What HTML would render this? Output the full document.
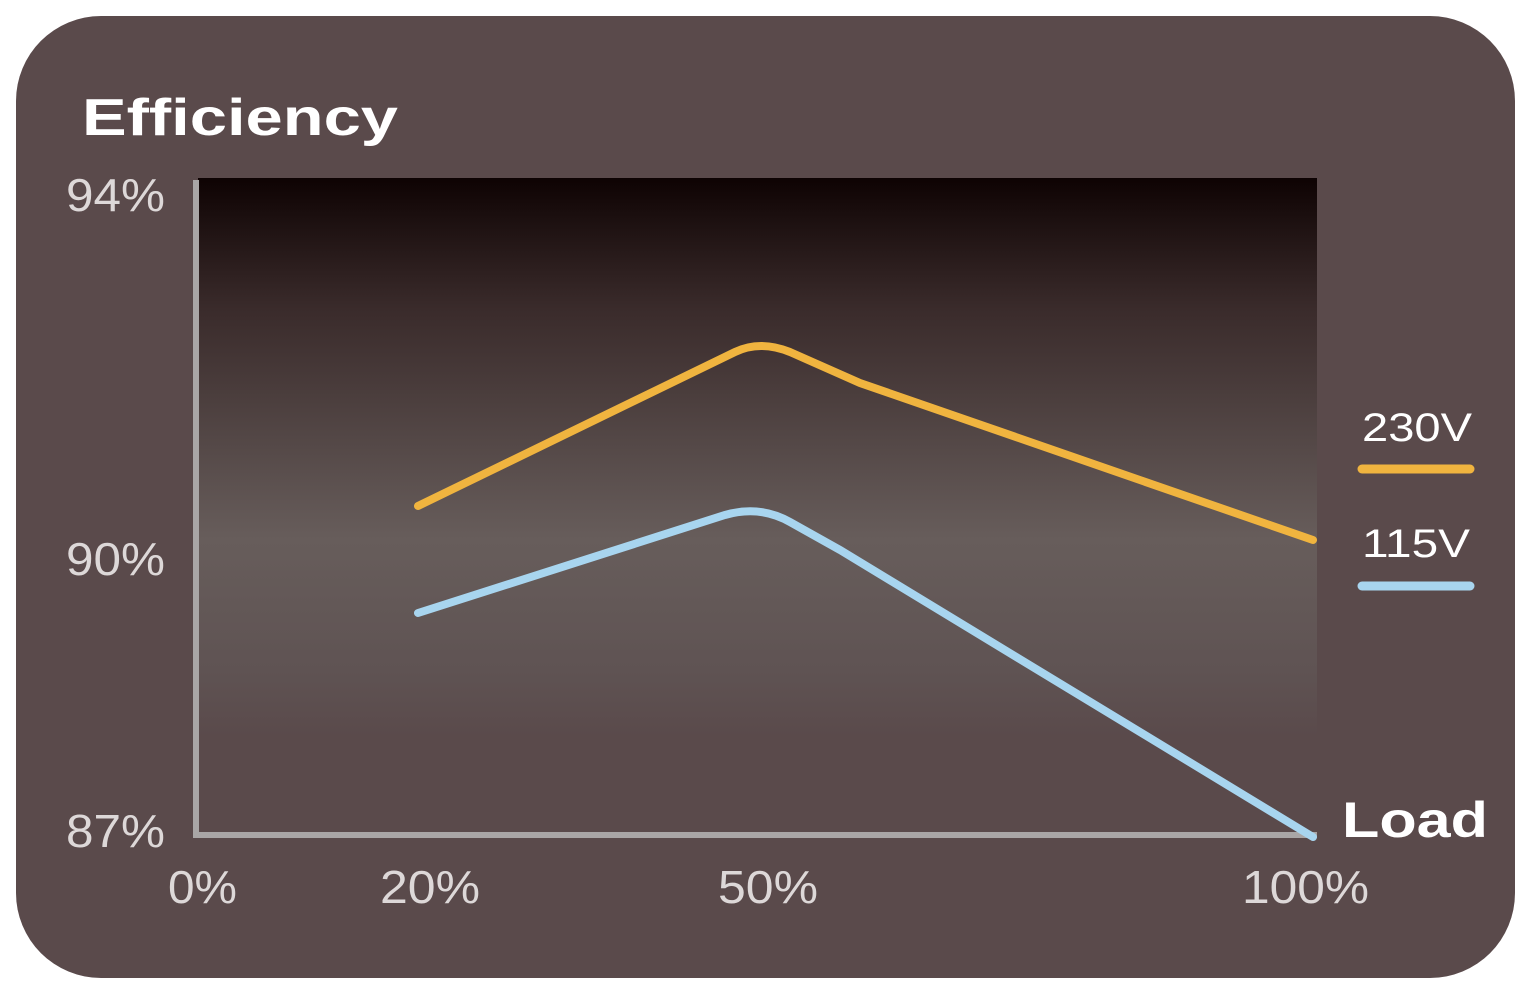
<!DOCTYPE html>
<html><head><style>
body{margin:0;background:#fff;width:1530px;height:994px;overflow:hidden}
</style></head><body>
<svg width="1530" height="994" xmlns="http://www.w3.org/2000/svg" font-family="Liberation Sans, sans-serif">
<defs><linearGradient id="g" x1="0" y1="0" x2="0" y2="1">
<stop offset="0" stop-color="#0e0303"/><stop offset="0.2" stop-color="#3a2b2b"/>
<stop offset="0.55" stop-color="#675d5b"/><stop offset="0.75" stop-color="#5f5353"/><stop offset="0.85" stop-color="#5a4a4b"/><stop offset="1" stop-color="#5a4a4b"/></linearGradient></defs>
<rect x="16" y="16" width="1499" height="962" rx="85" fill="#5a4a4b"/>
<rect x="198" y="178" width="1119" height="657" fill="url(#g)"/>
<line x1="196" y1="180" x2="196" y2="838" stroke="#a9a6a6" stroke-width="6"/>
<line x1="193" y1="835" x2="1317" y2="835" stroke="#a9a6a6" stroke-width="6"/>
<path d="M418,506 L735,352 Q760,340 790,352 L860,383 L1313,540" fill="none" stroke="#f0b43f" stroke-width="8" stroke-linecap="round"/>
<path d="M418,613 L725,515 Q760,505 790,522 L840,550 L1313,837" fill="none" stroke="#a8d5ef" stroke-width="8" stroke-linecap="round"/>
<text x="82" y="135" fill="#fff" font-size="52" font-weight="bold" textLength="316" lengthAdjust="spacingAndGlyphs">Efficiency</text>
<g fill="#ddd8d8" font-size="46">
<text x="66" y="211" textLength="99" lengthAdjust="spacingAndGlyphs">94%</text>
<text x="66" y="575" textLength="99" lengthAdjust="spacingAndGlyphs">90%</text>
<text x="66" y="847" textLength="99" lengthAdjust="spacingAndGlyphs">87%</text>
<text x="168" y="903" textLength="69" lengthAdjust="spacingAndGlyphs">0%</text>
<text x="380" y="903" textLength="100" lengthAdjust="spacingAndGlyphs">20%</text>
<text x="718" y="903" textLength="100" lengthAdjust="spacingAndGlyphs">50%</text>
<text x="1242" y="903" textLength="127" lengthAdjust="spacingAndGlyphs">100%</text>
</g>
<text x="1342" y="837" fill="#fff" font-size="50" font-weight="bold" textLength="146" lengthAdjust="spacingAndGlyphs">Load</text>
<text x="1362" y="441" fill="#fff" font-size="40" textLength="110" lengthAdjust="spacingAndGlyphs">230V</text>
<line x1="1362" y1="469" x2="1470" y2="469" stroke="#f0b43f" stroke-width="9" stroke-linecap="round"/>
<text x="1362" y="557" fill="#fff" font-size="40" textLength="108" lengthAdjust="spacingAndGlyphs">115V</text>
<line x1="1362" y1="586" x2="1470" y2="586" stroke="#a8d5ef" stroke-width="9" stroke-linecap="round"/>
</svg>
</body></html>
